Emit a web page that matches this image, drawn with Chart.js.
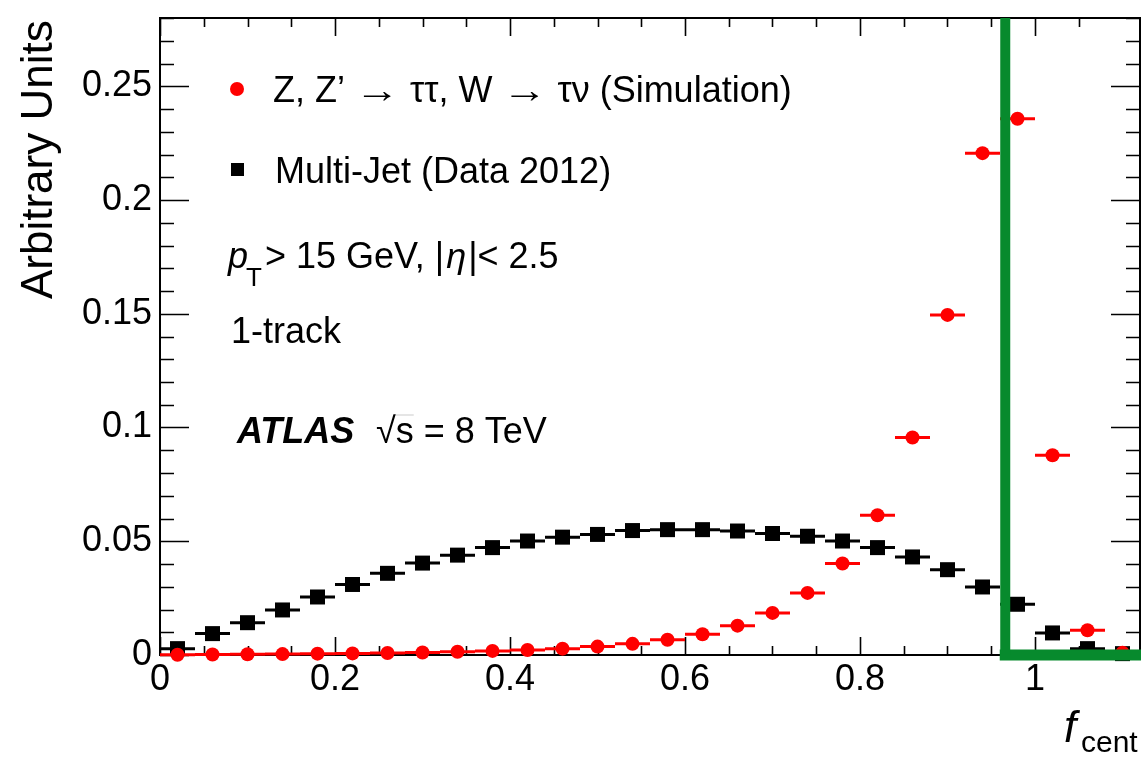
<!DOCTYPE html>
<html>
<head>
<meta charset="utf-8">
<script src="https://cdn.jsdelivr.net/npm/chart.js@4.4.1/dist/chart.umd.min.js"></script>
<style>
  html, body { margin: 0; padding: 0; background: #fff; }
  #wrap { width: 1141px; height: 759px; }
</style>
</head>
<body>
<div id="wrap"><canvas id="chart" width="1141" height="759"></canvas></div>
<script>
// f_cent bins, width 0.04
const binCentres = [0.02, 0.06, 0.10, 0.14, 0.18, 0.22, 0.26, 0.30, 0.34, 0.38, 0.42, 0.46, 0.50, 0.54,
                    0.58, 0.62, 0.66, 0.70, 0.74, 0.78, 0.82, 0.86, 0.90, 0.94, 0.98, 1.02, 1.06, 1.10];
const binHalfWidth = 0.02;

// Z, Z' -> tautau, W -> taunu (Simulation)
const signalValues = [0.0001, 0.0002, 0.0003, 0.0004, 0.0006, 0.0007, 0.0009, 0.0011, 0.0014, 0.0018, 0.0022, 0.0028, 0.0037, 0.0049,
                      0.0067, 0.0091, 0.0129, 0.0185, 0.0273, 0.0402, 0.0614, 0.0956, 0.1495, 0.2206, 0.2357, 0.0878, 0.0109, 0.0010];
// Multi-Jet (Data 2012)
const multiJetValues = [0.0028, 0.0094, 0.0142, 0.0198, 0.0255, 0.0310, 0.0359, 0.0404, 0.0439, 0.0472, 0.0501, 0.0518, 0.0530, 0.0547,
                        0.0551, 0.0551, 0.0545, 0.0534, 0.0522, 0.0501, 0.0472, 0.0431, 0.0375, 0.0299, 0.0223, 0.0097, 0.0028, 0.0006];

const cutValue = 0.966;
const xRange = [0, 1.12];
const yRange = [0, 0.28];
const xMajorTicks = [0, 0.2, 0.4, 0.6, 0.8, 1];
const yMajorTicks = [0, 0.05, 0.1, 0.15, 0.2, 0.25];
const xMinorStep = 0.05;
const yMinorStep = 0.01;

const FONT = '"Liberation Sans", Arial, Helvetica, sans-serif';
const font = (size, style) => (style ? style + ' ' : '') + size + 'px ' + FONT;
const near = (a, b) => Math.abs(a - b) < 1e-6;
const isMajor = (v, list) => list.some(m => near(m, v));
const fmt = v => String(+v.toFixed(2));

// keep the plot frame where it is, whatever the tick labels want
const fixBox = (s, key, size) => {
    s[key] = size;
    s.paddingLeft = 0; s.paddingRight = 0; s.paddingTop = 0; s.paddingBottom = 0;
};

// horizontal (bin width) error bars, drawn just before each dataset's markers
const errorBars = {
    id: 'errorBars',
    beforeDatasetDraw(chart, args) {
        const ds = chart.data.datasets[args.index];
        if (!ds.xErr) return;
        const {ctx, scales: {x, y}} = chart;
        ctx.save();
        ctx.strokeStyle = ds.backgroundColor;
        ctx.lineWidth = 3;
        ds.data.forEach(p => {
            const py = y.getPixelForValue(p.y);
            ctx.beginPath();
            ctx.moveTo(x.getPixelForValue(p.x - ds.xErr), py);
            ctx.lineTo(x.getPixelForValue(p.x + ds.xErr), py);
            ctx.stroke();
        });
        ctx.restore();
    }
};

// ROOT style frame with inward ticks on all four sides
const frame = {
    id: 'frame',
    beforeDatasetsDraw(chart) {
        const {ctx, chartArea: a, scales: {x, y}} = chart;
        ctx.save();
        ctx.strokeStyle = '#000';
        ctx.lineWidth = 2;
        ctx.strokeRect(a.left, a.top, a.right - a.left, a.bottom - a.top);
        ctx.lineWidth = 1.6;
        ctx.beginPath();
        x.ticks.forEach(t => {
            const v = t.value;
            if (!near(Math.round(v / xMinorStep) * xMinorStep, v)) return;
            const len = isMajor(v, xMajorTicks) ? 18 : 9;
            const px = Math.round(x.getPixelForValue(v)) + 0.5;
            ctx.moveTo(px, a.bottom); ctx.lineTo(px, a.bottom - len);
            ctx.moveTo(px, a.top); ctx.lineTo(px, a.top + len);
        });
        y.ticks.forEach(t => {
            const v = t.value;
            if (!near(Math.round(v / yMinorStep) * yMinorStep, v)) return;
            const len = isMajor(v, yMajorTicks) ? 29 : 14;
            const py = Math.round(y.getPixelForValue(v)) + 0.5;
            ctx.moveTo(a.left, py); ctx.lineTo(a.left + len, py);
            ctx.moveTo(a.right, py); ctx.lineTo(a.right - len, py);
        });
        ctx.stroke();
        ctx.restore();
    }
};

// legend, labels and axis titles
const annotations = {
    id: 'annotations',
    afterDraw(chart) {
        const ctx = chart.ctx;
        ctx.save();
        ctx.fillStyle = '#000';
        ctx.textBaseline = 'alphabetic';
        ctx.textAlign = 'left';

        // legend
        ctx.fillStyle = '#ff0000';
        ctx.beginPath(); ctx.arc(237, 89, 7, 0, Math.PI * 2); ctx.fill();
        ctx.fillStyle = '#000';
        ctx.fillRect(231, 163, 13, 13);
        ctx.font = font(36);
        let lx = 273;
        ['Z, Z\u2019 ', '\u2192', ' \u03c4\u03c4, W ', '\u2192', ' \u03c4\u03bd (Simulation)'].forEach(part => {
            if (part === '\u2192') {
                ctx.save();
                ctx.translate(lx, 0);
                ctx.scale(1.25, 1);
                ctx.fillText(part, 0, 102);
                ctx.restore();
                lx += ctx.measureText(part).width * 1.25;
            } else {
                ctx.fillText(part, lx, 102);
                lx += ctx.measureText(part).width;
            }
        });
        ctx.fillText('Multi-Jet (Data 2012)', 275, 183);

        // pT > 15 GeV, |eta| < 2.5
        let cx = 228;
        ctx.font = font(36, 'italic');
        ctx.fillText('p', cx, 268);
        cx += ctx.measureText('p').width;
        ctx.font = font(26);
        ctx.fillText('T', cx - 2, 286);
        cx += 17;
        ctx.font = font(36);
        ctx.fillText('> 15 GeV, |', cx, 268);
        cx += ctx.measureText('> 15 GeV, |').width + 2;
        ctx.font = font(36, 'italic');
        ctx.fillText('\u03b7', cx, 268);
        cx += ctx.measureText('\u03b7').width + 2;
        ctx.font = font(36);
        ctx.fillText('|< 2.5', cx, 268);

        ctx.fillText('1-track', 231, 343);

        // ATLAS sqrt(s) = 8 TeV
        ctx.font = font(36, 'bold italic');
        ctx.fillText('ATLAS', 237, 443);
        ctx.font = font(36);
        const rx = 376;
        const root = ctx.measureText('\u221a');
        ctx.fillText('\u221as = 8 TeV', rx, 443);
        const sw = ctx.measureText('s').width;
        const top = 443 - root.actualBoundingBoxAscent + 1;
        ctx.lineWidth = 2;
        ctx.beginPath();
        ctx.moveTo(rx + root.width - 1, top);
        ctx.lineTo(rx + root.width + sw, top);
        ctx.stroke();

        // axis titles
        ctx.font = font(44, 'italic');
        ctx.fillText('f', 1064, 742);
        ctx.font = font(30);
        ctx.fillText('cent', 1081, 752);

        ctx.translate(52, 299);
        ctx.rotate(-Math.PI / 2);
        ctx.font = font(44);
        ctx.fillText('Arbitrary Units', 0, 0);
        ctx.restore();
    }
};

const toPoints = values => binCentres.map((c, i) => ({x: c, y: values[i]}));

new Chart(document.getElementById('chart'), {
    type: 'scatter',
    data: {
        datasets: [
            {
                label: 'cut',
                data: [{x: cutValue, y: yRange[1]}, {x: cutValue, y: yRange[0]}],
                showLine: true,
                borderColor: '#078a2d',
                borderWidth: 10,
                borderCapStyle: 'butt',
                pointRadius: 0,
                clip: false
            },
            {
                label: 'floor',
                data: [{x: cutValue, y: yRange[0]}, {x: xRange[1], y: yRange[0]}],
                showLine: true,
                borderColor: '#078a2d',
                borderWidth: 11,
                borderCapStyle: 'square',
                pointRadius: 0,
                clip: false
            },
            {
                label: 'Z, Z\u2019 \u2192 \u03c4\u03c4, W \u2192 \u03c4\u03bd (Simulation)',
                data: toPoints(signalValues),
                xErr: binHalfWidth,
                backgroundColor: '#ff0000',
                borderWidth: 0,
                pointStyle: 'circle',
                pointRadius: 7,
                clip: false
            },
            {
                label: 'Multi-Jet (Data 2012)',
                data: toPoints(multiJetValues),
                xErr: binHalfWidth,
                backgroundColor: '#000000',
                borderWidth: 0,
                pointStyle: 'rect',
                pointRadius: 10.6,
                clip: false
            }
        ]
    },
    options: {
        responsive: false,
        animation: false,
        events: [],
        layout: { autoPadding: false, padding: { top: 18, right: 1, left: 0, bottom: 0 } },
        plugins: {
            legend: { display: false },
            tooltip: { enabled: false }
        },
        scales: {
            x: {
                type: 'linear',
                min: xRange[0],
                max: xRange[1],
                afterFit: s => fixBox(s, 'height', 104),
                grid: { display: false, drawTicks: false },
                border: { display: false },
                ticks: {
                    stepSize: xMinorStep,
                    autoSkip: false,
                    maxRotation: 0,
                    padding: 3,
                    color: '#000',
                    font: { family: FONT, size: 36 },
                    callback: v => isMajor(v, xMajorTicks) ? fmt(v) : ''
                }
            },
            y: {
                type: 'linear',
                min: yRange[0],
                max: yRange[1],
                afterFit: s => fixBox(s, 'width', 160),
                grid: { display: false, drawTicks: false },
                border: { display: false },
                ticks: {
                    stepSize: yMinorStep,
                    autoSkip: false,
                    padding: 8,
                    color: '#000',
                    font: { family: FONT, size: 36 },
                    callback: v => isMajor(v, yMajorTicks) ? fmt(v) : ''
                }
            }
        }
    },
    plugins: [errorBars, frame, annotations]
});
</script>
</body>
</html>
